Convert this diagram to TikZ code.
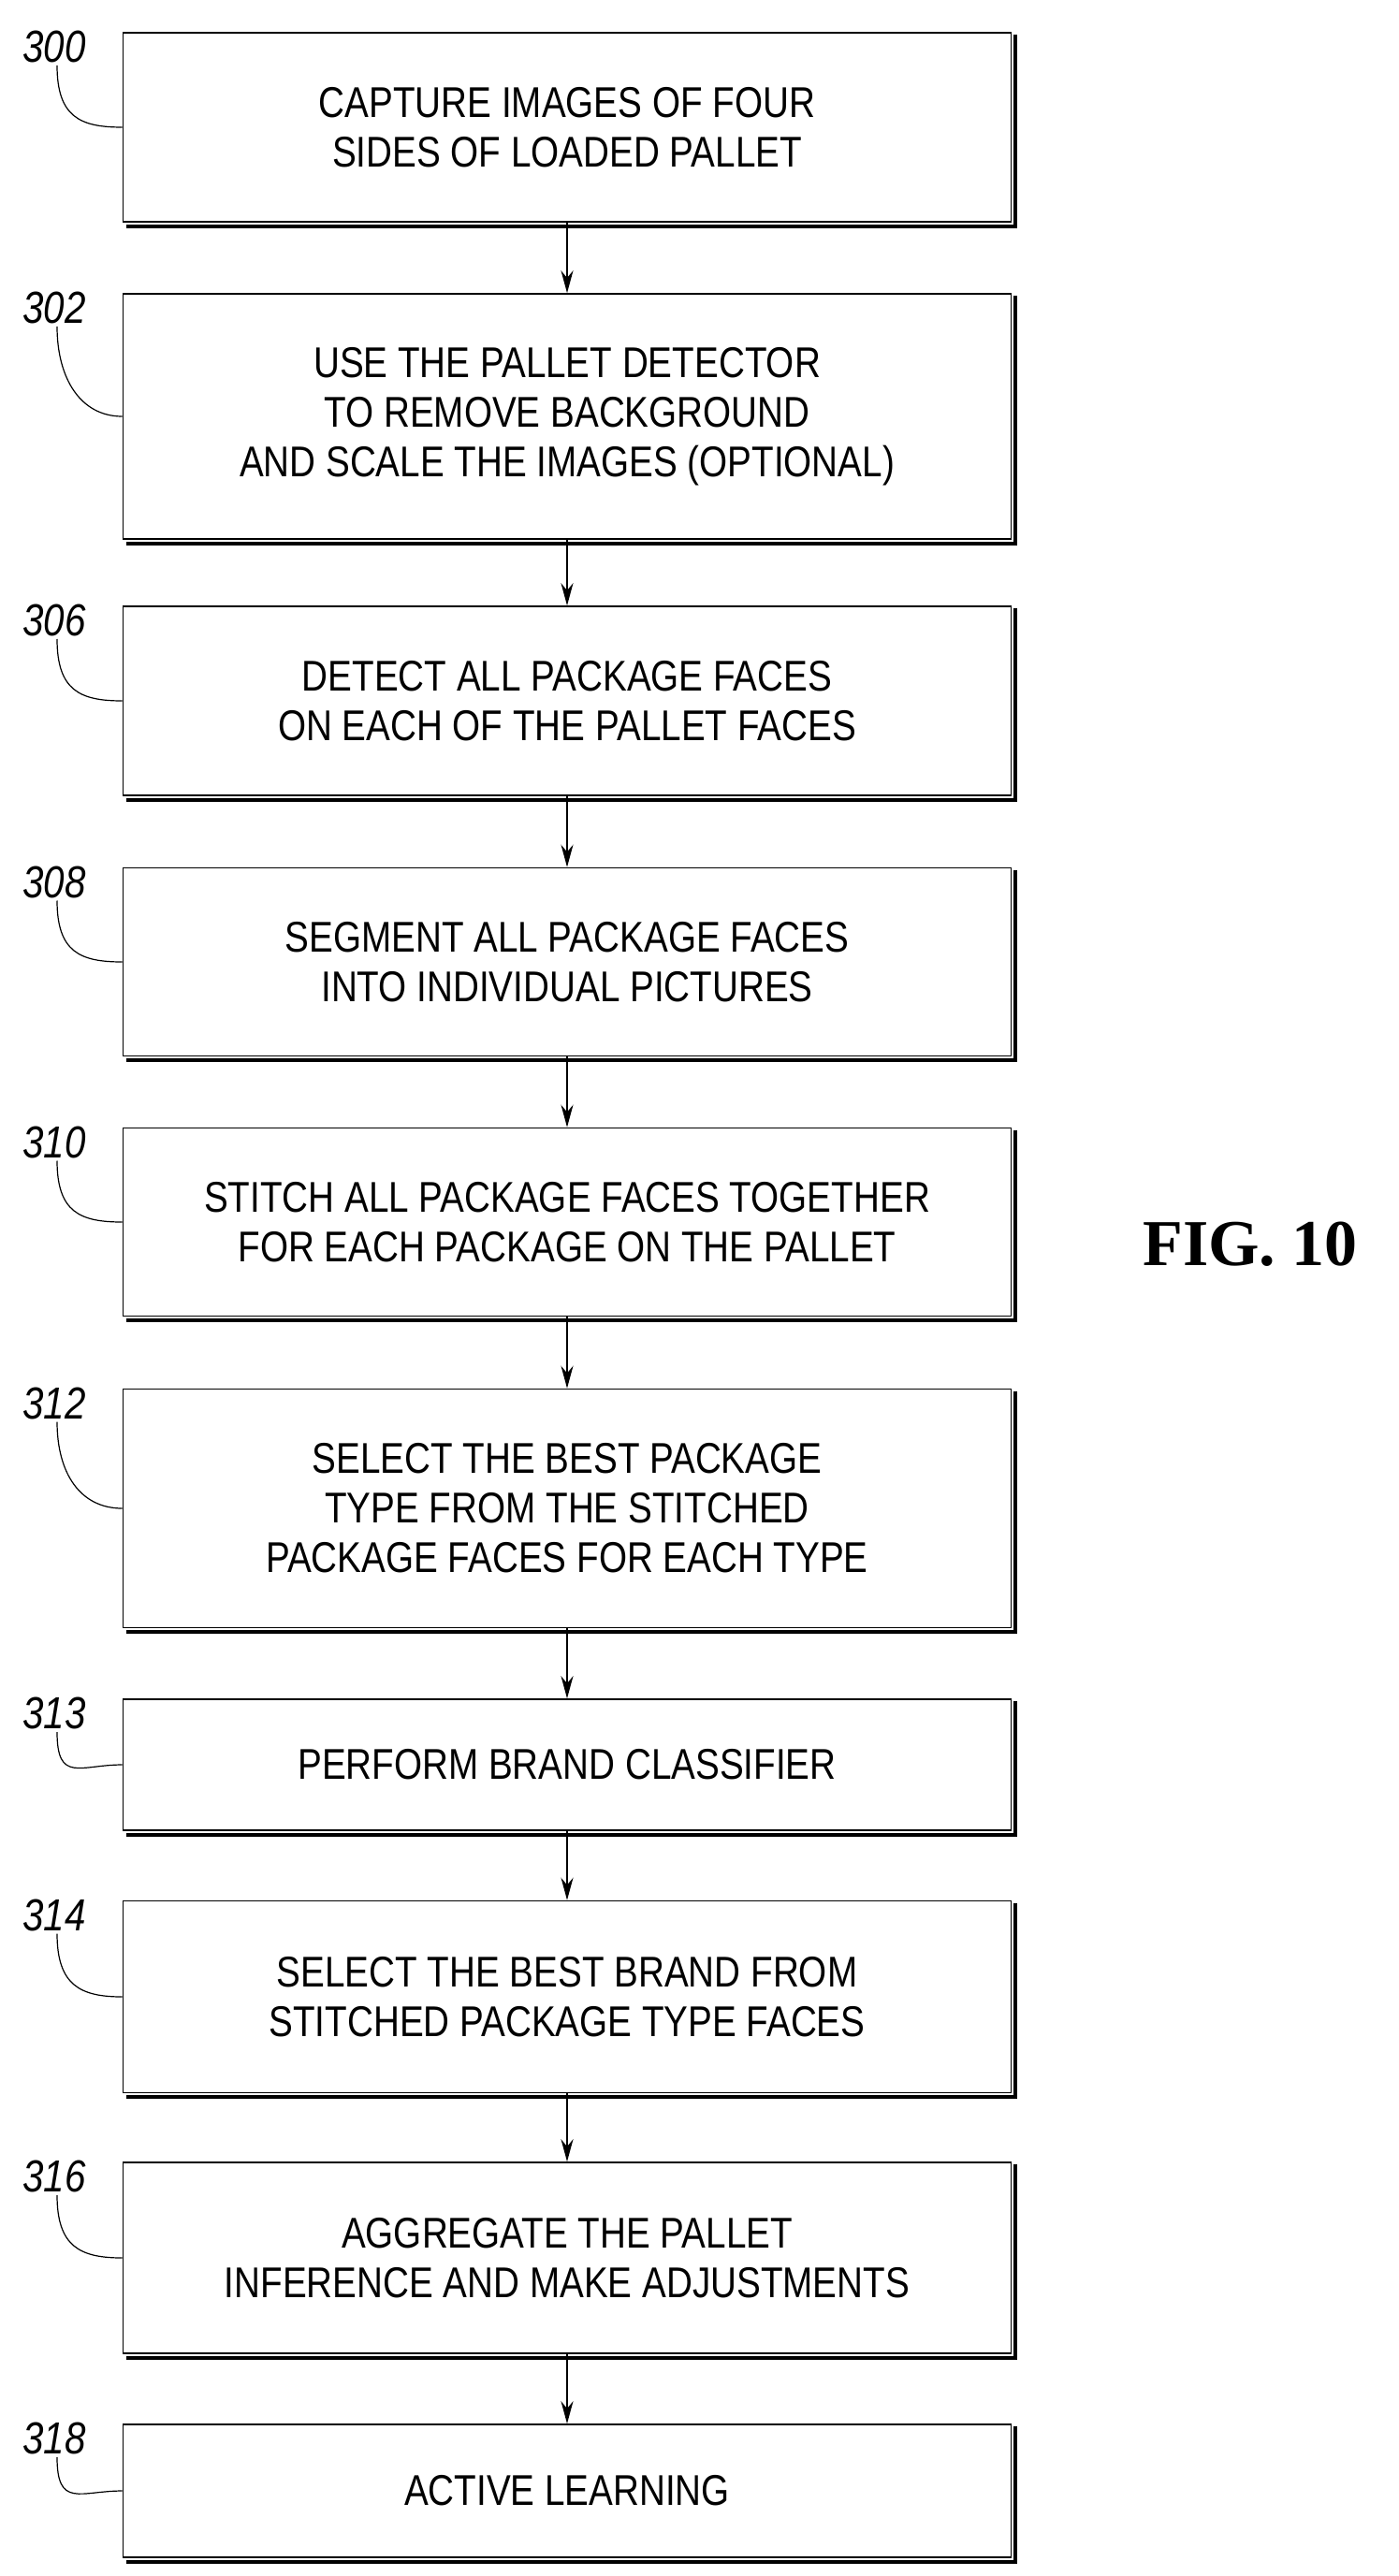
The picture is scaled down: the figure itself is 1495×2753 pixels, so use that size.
\documentclass[tikz,border=0pt]{standalone}
\usepackage{fontspec}
\setmainfont{Liberation Sans}[FakeStretch=0.84]
\newfontfamily\figfont{Liberation Serif}
\usetikzlibrary{arrows.meta}

\begin{document}
\begin{tikzpicture}
            [x=1pt,y=-1pt,thick,line width=1.6pt,
             stepbox/.style={draw,rectangle,minimum width=949pt,align=center,
               font=\fontsize{46}{53}\selectfont,inner sep=0pt},
             num/.style={font=\itshape\fontsize{48}{50}\selectfont,inner sep=2pt},
             flow/.style={-{Stealth[length=24pt,width=13pt]}}]
            \useasboundingbox (0,0) rectangle (1495,2753);

            \node[stepbox,minimum height=202pt] (S300) at (606,136) {CAPTURE IMAGES OF FOUR\\SIDES OF LOADED PALLET};
            \node[stepbox,minimum height=262pt] (S302) at (606,445) {USE THE PALLET DETECTOR\\TO REMOVE BACKGROUND\\AND SCALE THE IMAGES (OPTIONAL)};
            \node[stepbox,minimum height=202pt] (S306) at (606,749) {DETECT ALL PACKAGE FACES\\ON EACH OF THE PALLET FACES};
            \node[stepbox,minimum height=201pt] (S308) at (606,1028) {SEGMENT ALL PACKAGE FACES\\INTO INDIVIDUAL PICTURES};
            \node[stepbox,minimum height=201pt] (S310) at (606,1306) {STITCH ALL PACKAGE FACES TOGETHER\\FOR EACH PACKAGE ON THE PALLET};
            \node[stepbox,minimum height=255pt] (S312) at (606,1612) {SELECT THE BEST PACKAGE\\TYPE FROM THE STITCHED\\PACKAGE FACES FOR EACH TYPE};
            \node[stepbox,minimum height=140pt] (S313) at (606,1886) {PERFORM BRAND CLASSIFIER};
            \node[stepbox,minimum height=205pt] (S314) at (606,2134) {SELECT THE BEST BRAND FROM\\STITCHED PACKAGE TYPE FACES};
            \node[stepbox,minimum height=204pt] (S316) at (606,2413) {AGGREGATE THE PALLET\\INFERENCE AND MAKE ADJUSTMENTS};
            \node[stepbox,minimum height=142pt] (S318) at (606,2662) {ACTIVE LEARNING};

            % shadows and reference numerals
            \foreach \n in {300,302,306,308,310,312,313,314,316,318} {
              \draw[line width=4pt] ([xshift=4pt,yshift=-3pt]S\n.north east) -- ([xshift=4pt,yshift=-4pt]S\n.south east) -- ([xshift=4pt,yshift=-4pt]S\n.south west);
              \node[num] (L\n) at ([yshift=-16pt]S\n.north west -| 58,0) {\n};
              \draw[line width=1.2pt] ([xshift=3pt]L\n.south) .. controls +(0,55) and +(-45,0) .. (S\n.west);
            }

            % flow
            \draw[flow] (S300) -- (S302);
            \draw[flow] (S302) -- (S306);
            \draw[flow] (S306) -- (S308);
            \draw[flow] (S308) -- (S310);
            \draw[flow] (S310) -- (S312);
            \draw[flow] (S312) -- (S313);
            \draw[flow] (S313) -- (S314);
            \draw[flow] (S314) -- (S316);
            \draw[flow] (S316) -- (S318);

            \node[font=\figfont\bfseries\fontsize{70}{72}\selectfont] (fig) at (1336,1330) {FIG. 10};
        \end{tikzpicture}
\end{document}
